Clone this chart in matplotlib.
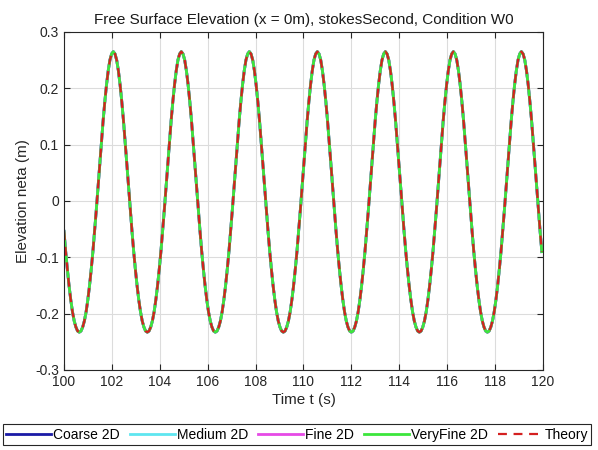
#!/usr/bin/env python3
import numpy as np
import matplotlib
matplotlib.use('Agg')
import matplotlib.pyplot as plt

plt.rcParams['font.family'] = ['Liberation Sans', 'DejaVu Sans']

# sampling of the record (s)
time_start = 100.0
time_step = 0.071

# free surface elevation (m), one row per wave cycle
elevation = [
    -0.054, -0.090, -0.122, -0.151, -0.176, -0.197, -0.213, -0.224, -0.231, -0.233,
    -0.231, -0.224, -0.213, -0.197, -0.176, -0.151, -0.122, -0.090, -0.054, -0.016,
    0.024, 0.064, 0.104, 0.142, 0.176, 0.206, 0.231, 0.250, 0.261, 0.265,
    0.261, 0.250, 0.231, 0.206, 0.176, 0.142, 0.104, 0.064, 0.024, -0.016,
    -0.054, -0.090, -0.122, -0.151, -0.176, -0.197, -0.213, -0.224, -0.231, -0.233,
    -0.231, -0.224, -0.213, -0.197, -0.176, -0.151, -0.122, -0.090, -0.054, -0.016,
    0.024, 0.064, 0.104, 0.142, 0.176, 0.206, 0.231, 0.250, 0.261, 0.265,
    0.261, 0.250, 0.231, 0.206, 0.176, 0.142, 0.104, 0.064, 0.024, -0.016,
    -0.054, -0.090, -0.122, -0.151, -0.176, -0.197, -0.213, -0.224, -0.231, -0.233,
    -0.231, -0.224, -0.213, -0.197, -0.176, -0.151, -0.122, -0.090, -0.054, -0.016,
    0.024, 0.064, 0.104, 0.142, 0.176, 0.206, 0.231, 0.250, 0.261, 0.265,
    0.261, 0.250, 0.231, 0.206, 0.176, 0.142, 0.104, 0.064, 0.024, -0.016,
    -0.054, -0.090, -0.122, -0.151, -0.176, -0.197, -0.213, -0.224, -0.231, -0.233,
    -0.231, -0.224, -0.213, -0.197, -0.176, -0.151, -0.122, -0.090, -0.054, -0.016,
    0.024, 0.064, 0.104, 0.142, 0.176, 0.206, 0.231, 0.250, 0.261, 0.265,
    0.261, 0.250, 0.231, 0.206, 0.176, 0.142, 0.104, 0.064, 0.024, -0.016,
    -0.054, -0.090, -0.122, -0.151, -0.176, -0.197, -0.213, -0.224, -0.231, -0.233,
    -0.231, -0.224, -0.213, -0.197, -0.176, -0.151, -0.122, -0.090, -0.054, -0.016,
    0.024, 0.064, 0.104, 0.142, 0.176, 0.206, 0.231, 0.250, 0.261, 0.265,
    0.261, 0.250, 0.231, 0.206, 0.176, 0.142, 0.104, 0.064, 0.024, -0.016,
    -0.054, -0.090, -0.122, -0.151, -0.176, -0.197, -0.213, -0.224, -0.231, -0.233,
    -0.231, -0.224, -0.213, -0.197, -0.176, -0.151, -0.122, -0.090, -0.054, -0.016,
    0.024, 0.064, 0.104, 0.142, 0.176, 0.206, 0.231, 0.250, 0.261, 0.265,
    0.261, 0.250, 0.231, 0.206, 0.176, 0.142, 0.104, 0.064, 0.024, -0.016,
    -0.054, -0.090, -0.122, -0.151, -0.176, -0.197, -0.213, -0.224, -0.231, -0.233,
    -0.231, -0.224, -0.213, -0.197, -0.176, -0.151, -0.122, -0.090, -0.054, -0.016,
    0.024, 0.064, 0.104, 0.142, 0.176, 0.206, 0.231, 0.250, 0.261, 0.265,
    0.261, 0.250, 0.231, 0.206, 0.176, 0.142, 0.104, 0.064, 0.024, -0.016,
    -0.054, -0.090,
]

series_names = ['Coarse 2D', 'Medium 2D', 'Fine 2D', 'VeryFine 2D']
series_colors = ['#1a1aa6', '#5ee6f0', '#e64ae6', '#3ce63c']
theory_name = 'Theory'
theory_color = '#d42020'

x_ticks = [100, 102, 104, 106, 108, 110, 112, 114, 116, 118, 120]
y_ticks = [-0.3, -0.2, -0.1, 0.0, 0.1, 0.2, 0.3]
y_tick_labels = ['-0.3', '-0.2', '-0.1', '0', '0.1', '0.2', '0.3']

time_s = time_start + time_step * np.arange(len(elevation))
eta = np.array(elevation)

fig = plt.figure(figsize=(5.98, 4.5), dpi=100)
ax = fig.add_axes([0.107, 0.178, 0.801, 0.751])

for name, color in zip(series_names, series_colors):
    ax.plot(time_s, eta, color=color, linewidth=2.0, label=name)
ax.plot(time_s, eta, color=theory_color, linewidth=1.6, linestyle=(0, (4, 3)), label=theory_name)

ax.set_xlim(100, 120)
ax.set_ylim(-0.3, 0.3)
ax.set_xticks(x_ticks)
ax.set_yticks(y_ticks)
ax.set_yticklabels(y_tick_labels)
ax.tick_params(direction='in', top=True, right=True, labelsize=10, colors='#262626', length=4)
ax.grid(True, color='#dcdcdc', linewidth=0.8)
ax.set_axisbelow(True)
for spine in ax.spines.values():
    spine.set_color('#262626')
    spine.set_linewidth(0.8)

ax.set_title('Free Surface Elevation (x = 0m), stokesSecond, Condition W0', fontsize=11, color='#1a1a1a', pad=6)
ax.set_xlabel('Time t (s)', fontsize=11, color='#262626', labelpad=3)
ax.set_ylabel('Elevation neta (m)', fontsize=11, color='#262626', labelpad=4)

leg = fig.legend(loc='center', bbox_to_anchor=(0.497, 0.034), ncol=5, fontsize=10,
                 frameon=True, fancybox=False, edgecolor='#262626', framealpha=1,
                 handlelength=3.2, handletextpad=0.15, columnspacing=0.75, borderpad=0.25,
                 borderaxespad=0.2)
leg.get_frame().set_linewidth(0.8)

fig.savefig('out.png', dpi=100)
